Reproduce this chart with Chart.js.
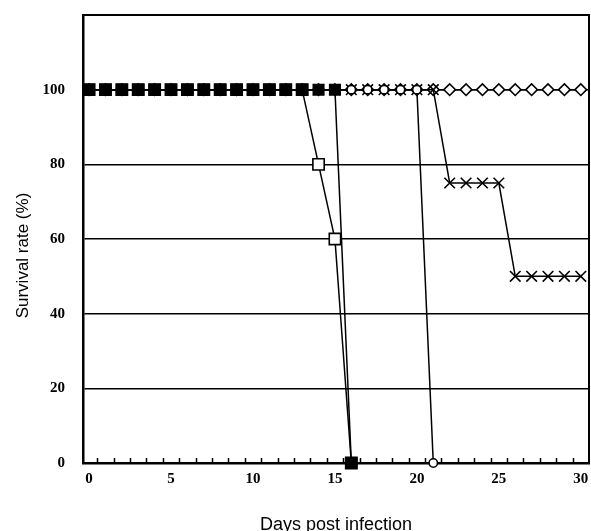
<!DOCTYPE html>
<html><head><meta charset="utf-8">
<script src="https://cdn.jsdelivr.net/npm/chart.js@4.4.1/dist/chart.umd.min.js"></script>
<style>html,body{margin:0;padding:0;background:#fff;} #c{display:block;}</style>
</head><body>
<canvas id="c" width="591" height="531"></canvas>
<script>
const days = [0,1,2,3,4,5,6,7,8,9,10,11,12,13,14,15,16,17,18,19,20,21,22,23,24,25,26,27,28,29,30];
const filledSquare = [100,100,100,100,100,100,100,100,100,100,100,100,100,100,100,100,0];
const openSquare   = [100,100,100,100,100,100,100,100,100,100,100,100,100,100,80,60,0];
const circleSeries = [100,100,100,100,100,100,100,100,100,100,100,100,100,100,100,100,100,100,100,100,100,0];
const crossSeries  = [100,100,100,100,100,100,100,100,100,100,100,100,100,100,100,100,100,100,100,100,100,100,75,75,75,75,50,50,50,50,50];
const diamondSeries= [100,100,100,100,100,100,100,100,100,100,100,100,100,100,100,100,100,100,100,100,100,100,100,100,100,100,100,100,100,100,100];
const yTickLabels = [0,20,40,60,80,100];
const xTickLabels = [0,5,10,15,20,25,30];
const X_MIN = -0.37, X_MAX = 30.5;

function pts(arr){ return arr.map((v,i)=>({x:days[i], y:v})); }

const common = { borderColor:'#000', borderWidth:1.5, pointBorderColor:'#000', pointBorderWidth:1.6, clip:false, tension:0 };

const framePlugin = {
  id:'frame',
  beforeDatasetsDraw(chart){
    const {ctx, chartArea:a, scales:{x}} = chart;
    ctx.save();
    ctx.strokeStyle = '#000';
    ctx.lineWidth = 2;
    ctx.strokeRect(a.left, a.top, a.right - a.left, a.bottom - a.top);
    ctx.lineWidth = 1.5;
    ctx.beginPath();
    for (let i = 0; i < days.length - 1; i++) {
      const px = Math.round(x.getPixelForValue(days[i] + 0.5)) + 0.5;
      ctx.moveTo(px, a.bottom);
      ctx.lineTo(px, a.bottom - 5);
    }
    ctx.stroke();
    ctx.restore();
  }
};

new Chart(document.getElementById('c'), {
  type:'line',
  data:{ datasets:[
    Object.assign({label:'filled square', data:pts(filledSquare), pointStyle:'rect', pointRadius:7.4, pointBackgroundColor:'#000'}, common),
    Object.assign({label:'open square', data:pts(openSquare), pointStyle:'rect', pointRadius:8, pointBackgroundColor:'#fff'}, common),
    Object.assign({label:'circle', data:pts(circleSeries), pointStyle:'circle', pointRadius:4.2, pointBackgroundColor:'#fff'}, common),
    Object.assign({label:'cross', data:pts(crossSeries), pointStyle:'crossRot', pointRadius:7.5, pointBorderWidth:2, pointBackgroundColor:'#fff'}, common),
    Object.assign({label:'diamond', data:pts(diamondSeries), pointStyle:'rectRot', pointRadius:5.8, pointBackgroundColor:'#fff'}, common)
  ]},
  options:{
    responsive:false, animation:false, devicePixelRatio:1,
    layout:{ autoPadding:false, padding:{ top:15, right:2, left:0, bottom:0 } },
    plugins:{ legend:{display:false}, tooltip:{enabled:false} },
    scales:{
      x:{
        type:'linear', min:X_MIN, max:X_MAX,
        afterFit(s){ s.height = 68; s.paddingLeft = 0; s.paddingRight = 0; },
        afterBuildTicks(s){ s.ticks = [X_MIN].concat(xTickLabels, [X_MAX]).map(v=>({value:v})); },
        border:{ display:true, color:'#000', width:2.5 },
        grid:{ display:false, drawTicks:false },
        ticks:{ autoSkip:false, maxRotation:0, padding:7, color:'#000',
                font:{ family:'"Liberation Serif", serif', weight:'bold', size:15 },
                callback:(v)=> xTickLabels.includes(v) ? String(v) : '' },
        title:{ display:true, text:'Days post infection', color:'#000',
                font:{ family:'"Liberation Sans", Arial, sans-serif', size:18 }, padding:{top:0,bottom:-5} }
      },
      y:{
        type:'linear', min:0, max:120,
        afterFit(s){ s.width = 83; s.paddingTop = 0; s.paddingBottom = 0; },
        border:{ display:true, color:'#000', width:2.5 },
        grid:{ color:'#000', lineWidth:1.5, drawTicks:false },
        ticks:{ stepSize:20, padding:18, color:'#000',
                font:{ family:'"Liberation Serif", serif', weight:'bold', size:15 },
                callback:(v)=> yTickLabels.includes(v) ? String(v) : '' },
        title:{ display:true, text:'Survival rate (%)       ', color:'#000',
                font:{ family:'"Liberation Sans", Arial, sans-serif', size:17 }, padding:{top:13,bottom:0} }
      }
    }
  },
  plugins:[framePlugin]
});
</script>
</body></html>
